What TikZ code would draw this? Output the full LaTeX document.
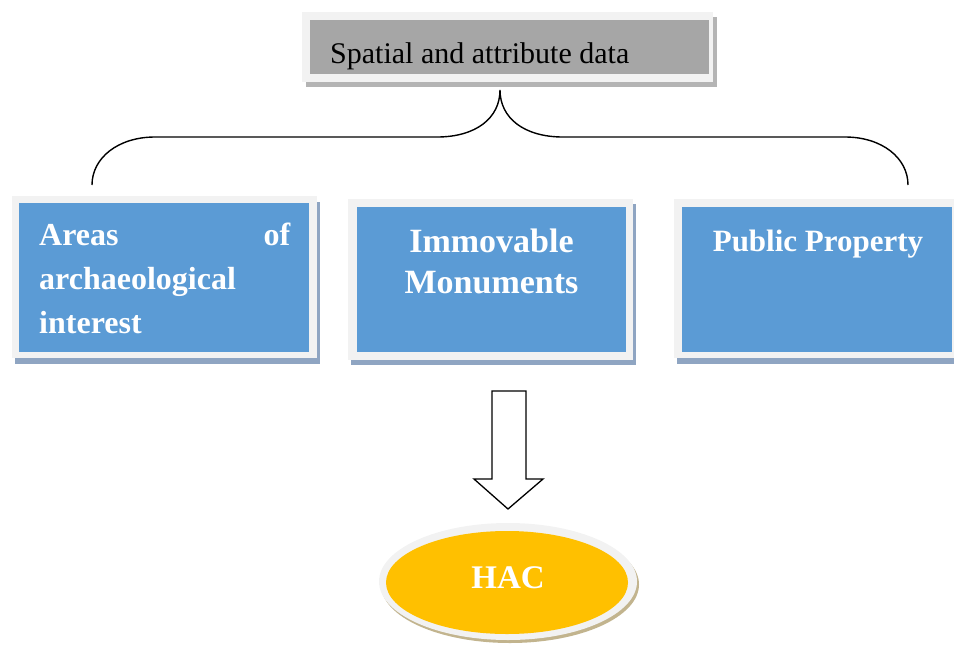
\documentclass[tikz,border=0pt]{standalone}
\usepackage{fontspec}
\setmainfont{Liberation Serif}
\usetikzlibrary{shapes.geometric}
\definecolor{framegray}{HTML}{F2F2F2}
\definecolor{boxgray}{HTML}{A6A6A6}
\definecolor{shadgray}{HTML}{B4B4B4}
\definecolor{boxblue}{HTML}{5B9BD5}
\definecolor{shadblue}{HTML}{8FA5C2}
\definecolor{hacyellow}{HTML}{FFC000}
\definecolor{shadtan}{HTML}{C2B48E}
\begin{document}
\begin{tikzpicture}[x=1pt,y=-1pt]
\tikzset{
  plainrect/.style={rectangle, draw=none, inner sep=0pt, outer sep=0pt},
  framebox/.style={plainrect, fill=framegray},
  graybox/.style={plainrect, fill=boxgray},
  bluebox/.style={plainrect, fill=boxblue},
  grayshadow/.style={plainrect, fill=shadgray},
  blueshadow/.style={plainrect, fill=shadblue},
  toptext/.style={inner sep=0pt, anchor=base west, text=black, font=\fontsize{30}{36}\selectfont},
  boxtext/.style={inner sep=0pt, text=white, font=\bfseries\fontsize{32}{40}\selectfont},
  brace/.style={draw=black, line width=1.4pt},
  blockarrow/.style={draw=black, line width=1.3pt, fill=white, line join=miter},
}
\useasboundingbox (0,0) rectangle (954,646);
\clip (0,0) rectangle (954,646);

% top box
\node[grayshadow, minimum width=411, minimum height=70] (topshadow) at (511.5,51.5) {};
\node[framebox, minimum width=411, minimum height=70] (topframe) at (507.5,47) {};
\node[graybox, minimum width=399, minimum height=54] (topbox) at (509.5,47) {};
\node[toptext] (toplabel) at (330,63) {Spatial and attribute data};

% left box
\node[blueshadow, minimum width=305, minimum height=162] (leftshadow) at (167.5,283) {};
\node[framebox, minimum width=305, minimum height=162] (leftframe) at (164.5,277) {};
\node[bluebox, minimum width=290, minimum height=149] (leftbox) at (164,277.5) {};
\node[boxtext, anchor=base west] (leftl1) at (39,245) {\makebox[251pt][s]{Areas\hfill of}};
\node[boxtext, anchor=base west] (leftl2) at (39,289) {archaeological};
\node[boxtext, anchor=base west] (leftl3) at (39,333) {interest};

% middle box
\node[blueshadow, minimum width=285, minimum height=161] (midshadow) at (493.5,284.5) {};
\node[framebox, minimum width=285, minimum height=161] (midframe) at (490.5,279.5) {};
\node[bluebox, minimum width=269, minimum height=145] (midbox) at (491.5,279.5) {};
\node[boxtext, anchor=base, font=\bfseries\fontsize{34}{40}\selectfont] (midl1) at (491.5,252) {Immovable};
\node[boxtext, anchor=base, font=\bfseries\fontsize{34}{40}\selectfont] (midl2) at (491.5,293) {Monuments};

% right box
\node[blueshadow, minimum width=285, minimum height=159] (rightshadow) at (819.5,284.5) {};
\node[framebox, minimum width=285, minimum height=159] (rightframe) at (816.5,278.5) {};
\node[bluebox, minimum width=270, minimum height=145] (rightbox) at (817,279.5) {};
\node[boxtext, anchor=base, font=\bfseries\fontsize{31}{40}\selectfont] (rightl1) at (818,251) {Public Property};

% brace
\coordinate (tip) at (500,90);
\coordinate (leftend) at (92,185);
\coordinate (rightend) at (908,185);
\draw[brace] (leftend) .. controls (92,158) and (118,137) .. (155,137) -- (437,137)
  .. controls (476,137) and (500,118) .. (tip)
  .. controls (500,118) and (524,137) .. (563,137) -- (845,137)
  .. controls (882,137) and (908,158) .. (rightend);

% HAC ellipse
\node[ellipse, fill=shadtan, inner sep=0pt, minimum width=258, minimum height=117] (hacshadow) at (510,584.5) {};
\node[ellipse, fill=framegray, inner sep=0pt, minimum width=258, minimum height=117] (hacframe) at (508,581.5) {};
\node[ellipse, fill=hacyellow, inner sep=0pt, minimum width=242, minimum height=103] (hac) at (507,582.5) {};
\node[boxtext, anchor=base, font=\bfseries\fontsize{33}{40}\selectfont] (haclabel) at (508,588) {HAC};

% block arrow
\coordinate (arrowtop) at (509,391);
\coordinate (arrowtip) at (508,509);
\draw[blockarrow] (492,391) -- (526,391) -- (526,479) -- (543,479) -- (arrowtip)
  -- (474,479) -- (492,479) -- cycle;
\end{tikzpicture}
\end{document}
